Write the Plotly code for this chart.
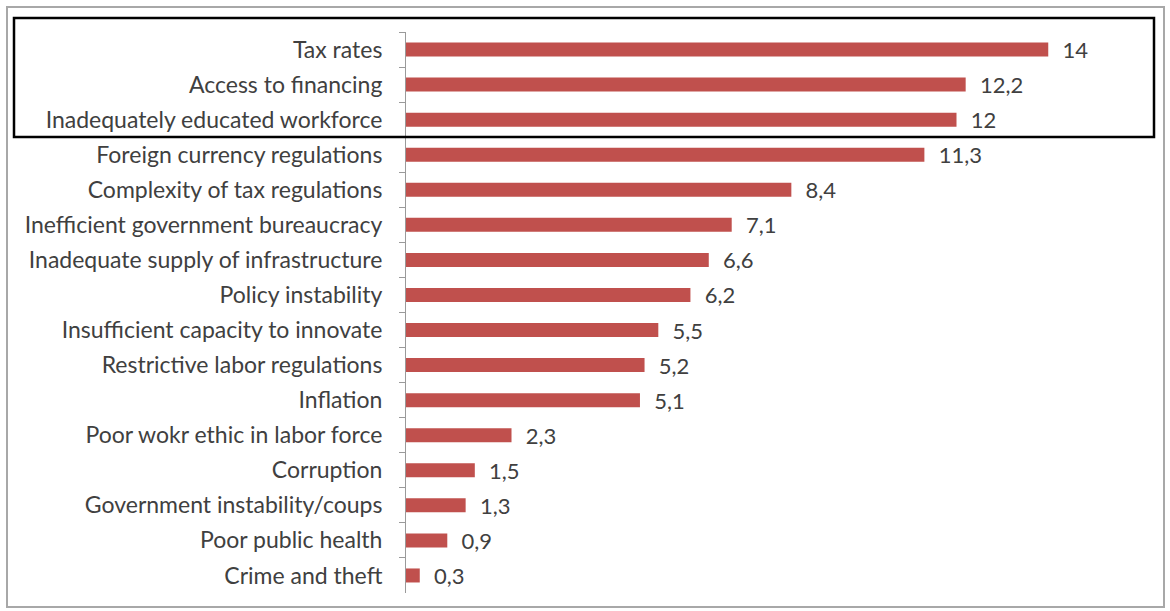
import plotly.graph_objects as go

# Obstacles to doing business (% of responses), listed top to bottom
categories = [
    "Tax rates",
    "Access to financing",
    "Inadequately educated workforce",
    "Foreign currency regulations",
    "Complexity of tax regulations",
    "Inefficient government bureaucracy",
    "Inadequate supply of infrastructure",
    "Policy instability",
    "Insufficient capacity to innovate",
    "Restrictive labor regulations",
    "Inflation",
    "Poor wokr ethic in labor force",
    "Corruption",
    "Government instability/coups",
    "Poor public health",
    "Crime and theft",
]
values = [14, 12.2, 12, 11.3, 8.4, 7.1, 6.6, 6.2, 5.5, 5.2, 5.1, 2.3, 1.5, 1.3, 0.9, 0.3]

W, H = 1170, 611
ML, MR, MT, MB = 406, 30, 32, 18
PW, PH = W - ML - MR, H - MT - MB

def px(x):
    return (x - ML) / PW

def py(y):
    return (H - MB - y) / PH

FONT = "Lato"
TEXT = "#404040"
BAR = "#C0504D"
LABEL_SIZE = 23
VALUE_SIZE = 22

fig = go.Figure(
    go.Bar(
        x=values,
        y=categories,
        orientation="h",
        marker=dict(color=BAR, line=dict(width=0)),
        texttemplate="\u00a0\u00a0%{x}",
        textposition="outside",
        constraintext="none",
        textfont=dict(family=FONT, size=VALUE_SIZE, color=TEXT),
        cliponaxis=False,
        hoverinfo="skip",
    )
)

fig.update_layout(
    width=W,
    height=H,
    margin=dict(l=ML, r=MR, t=MT, b=MB),
    paper_bgcolor="white",
    plot_bgcolor="white",
    separators=", ",
    bargap=0.6,
    showlegend=False,
    font=dict(family=FONT, size=LABEL_SIZE, color=TEXT),
    xaxis=dict(
        range=[0, 16],
        visible=False,
        showgrid=False,
        zeroline=False,
    ),
    yaxis=dict(
        autorange="reversed",
        tickson="boundaries",
        ticks="outside",
        ticklen=6,
        tickcolor="#9a9a9a",
        showline=True,
        linecolor="#9a9a9a",
        linewidth=1,
        showgrid=False,
        ticklabelstandoff=18,
        tickfont=dict(family=FONT, size=LABEL_SIZE, color=TEXT),
    ),
    shapes=[
        # outer chart frame
        dict(type="rect", xref="paper", yref="paper",
             x0=px(7), x1=px(1164), y0=py(607), y1=py(7),
             line=dict(color="#a8a8a8", width=2), layer="below"),
        # highlight box around the top three obstacles
        dict(type="rect", xref="paper", yref="paper",
             x0=px(14), x1=px(1154), y0=py(137), y1=py(18),
             line=dict(color="black", width=2.5)),
    ],
)

fig.write_html("out.html")
